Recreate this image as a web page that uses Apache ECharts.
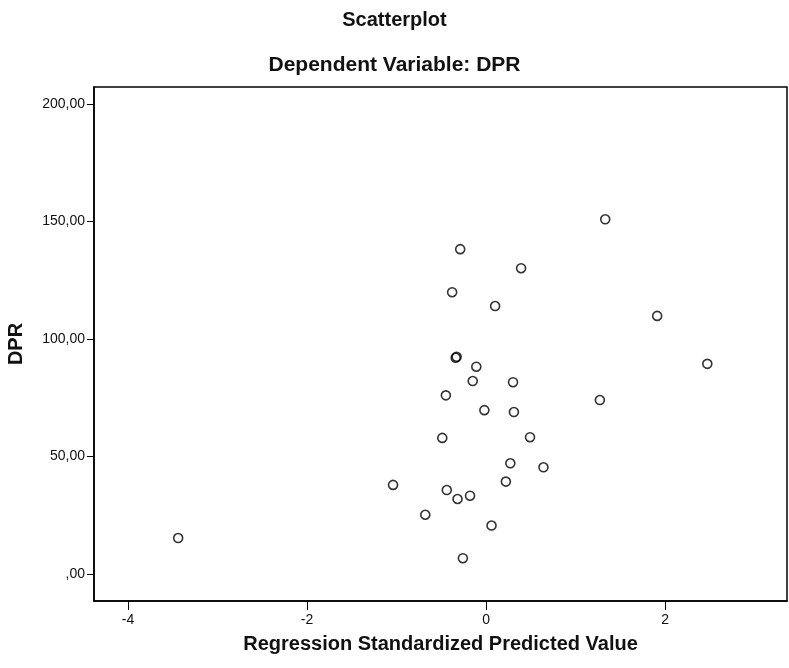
<!DOCTYPE html>
<html><head><meta charset="utf-8">
<script src="https://cdn.jsdelivr.net/npm/echarts@6/dist/echarts.min.js"></script>
<style>html,body{margin:0;padding:0;background:#fff}#c{width:789px;height:668px}</style>
</head><body><div id="c"></div>
<script>
const predicted = [-3.44,-1.04,-0.68,-0.44,-0.32,-0.18,-0.26,0.06,0.22,0.27,0.64,0.49,-0.49,-0.45,-0.02,0.31,0.30,-0.15,-0.11,-0.34,-0.33,1.27,2.47,1.91,0.10,-0.38,0.39,-0.29,1.33];
const dpr = [15.3,37.9,25.2,35.7,31.9,33.3,6.7,20.6,39.3,47.1,45.4,58.2,57.9,76.0,69.7,68.9,81.6,82.1,88.2,92.0,92.4,74.0,89.4,109.8,114.0,119.9,130.1,138.2,150.9];
const xTicks = [-4,-2,0,2];
const yTicks = [0,50,100,150,200];
const titleText = 'Scatterplot';
const subtitleText = 'Dependent Variable: DPR';
const xName = 'Regression Standardized Predicted Value';
const yName = 'DPR';

const points = predicted.map((v,i)=>[v,dpr[i]]);
const font = 'Liberation Sans, Arial, sans-serif';
const chart = echarts.init(document.getElementById('c'));
chart.setOption({
  animation:false,
  backgroundColor:'#fff',
  title:[
    {text:titleText,left:'center',top:5,textStyle:{fontFamily:font,fontSize:20,fontWeight:'bold',color:'#111'}},
    {text:subtitleText,left:'center',top:50,textStyle:{fontFamily:font,fontSize:21,fontWeight:'bold',color:'#111'}}
  ],
  grid:{left:94,top:87,right:2,bottom:67,outerBoundsMode:'none',containLabel:false,show:true,borderColor:'#000',borderWidth:1.5,backgroundColor:'transparent'},
  xAxis:{
    type:'value',min:-4.38,max:3.36,
    name:xName,nameLocation:'middle',nameGap:33,
    nameTextStyle:{fontFamily:font,fontSize:20,fontWeight:'bold',color:'#111'},
    axisLine:{show:true,onZero:false,lineStyle:{color:'#000',width:1.5}},
    axisTick:{show:true,length:9,customValues:xTicks,lineStyle:{color:'#000'}},
    axisLabel:{customValues:xTicks,fontFamily:font,fontSize:14,color:'#111',margin:12},
    splitLine:{show:false}
  },
  yAxis:{
    type:'value',min:-11.5,max:207.2,
    name:yName,nameLocation:'middle',nameGap:68,nameRotate:90,
    nameTextStyle:{fontFamily:font,fontSize:20,fontWeight:'bold',color:'#111'},
    axisLine:{show:true,onZero:false,lineStyle:{color:'#000',width:1.5}},
    axisTick:{show:true,length:7,customValues:yTicks,lineStyle:{color:'#000'}},
    axisLabel:{customValues:yTicks,fontFamily:font,fontSize:14,color:'#111',margin:9,
      formatter:v=>v===0?',00':(v.toFixed(2).replace('.',','))},
    splitLine:{show:false}
  },
  series:[{
    type:'scatter',data:points,symbol:'circle',symbolSize:9,
    itemStyle:{color:'transparent',borderColor:'#000',borderWidth:1.6}
  }]
});
</script></body></html>
